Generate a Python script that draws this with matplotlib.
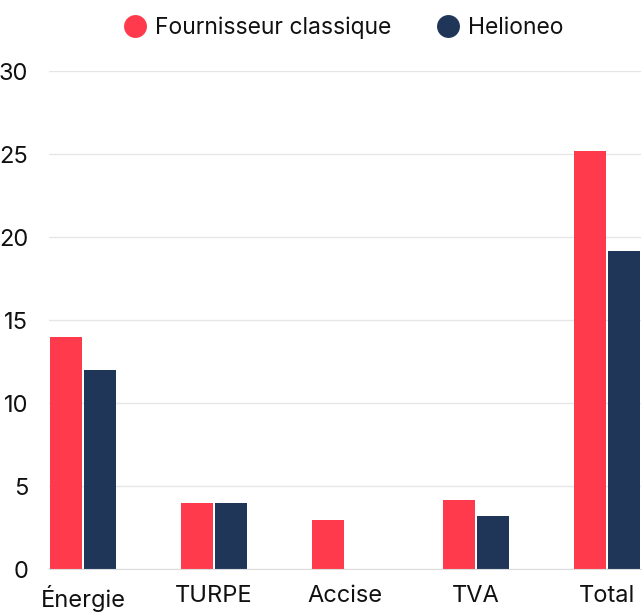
import numpy as np
import matplotlib
matplotlib.use("Agg")
import matplotlib.pyplot as plt
from matplotlib.lines import Line2D

plt.rcParams['font.family'] = ['Inter', 'DejaVu Sans']

categories = ["Énergie", "TURPE", "Accise", "TVA", "Total"]
classique = [14, 4, 3, 4.2, 25.2]
helioneo = [12, 4, 0, 3.2, 19.2]
series_names = ["Fournisseur classique", "Helioneo"]
yticks = [0, 5, 10, 15, 20, 25, 30]

red = "#ff3a4c"
navy = "#1f3658"

fig = plt.figure(figsize=(6.44, 6.15), dpi=100)
ax = fig.add_axes([49 / 644, 45.7 / 615, 592 / 644, 498 / 615])

x = np.arange(len(categories))
w = 32 / 131
off = 17 / 131
ax.bar(x - off, classique, width=w, color=red, linewidth=0, zorder=3)
ax.bar(x + off, helioneo, width=w, color=navy, linewidth=0, zorder=3)

ax.set_xlim(-0.2595, 4.2595)
ax.set_ylim(0, 30)
ax.set_yticks(yticks)
ax.set_xticks(x)
ax.set_xticklabels(categories)
ax.tick_params(axis='both', length=0, labelsize=17, colors="#111111")
ax.tick_params(axis='x', pad=11)
ax.tick_params(axis='y', pad=15)
ax.grid(axis='y', color="#e6e6e6", linewidth=1, zorder=0)
for s in ["top", "right", "left"]:
    ax.spines[s].set_visible(False)
ax.spines["bottom"].set_color("#dcdcdc")
ax.spines["bottom"].set_zorder(4)

handles = [Line2D([], [], marker='o', linestyle='none', markersize=16.5,
                  markerfacecolor=c, markeredgewidth=0) for c in (red, navy)]
fig.legend(handles, series_names, loc='center', bbox_to_anchor=(0.534, 0.955),
           ncol=2, frameon=False, fontsize=16.5, handlelength=0.95,
           handletextpad=0.4, columnspacing=2.0, labelcolor="#111111")

fig.savefig("out.png", dpi=100)
